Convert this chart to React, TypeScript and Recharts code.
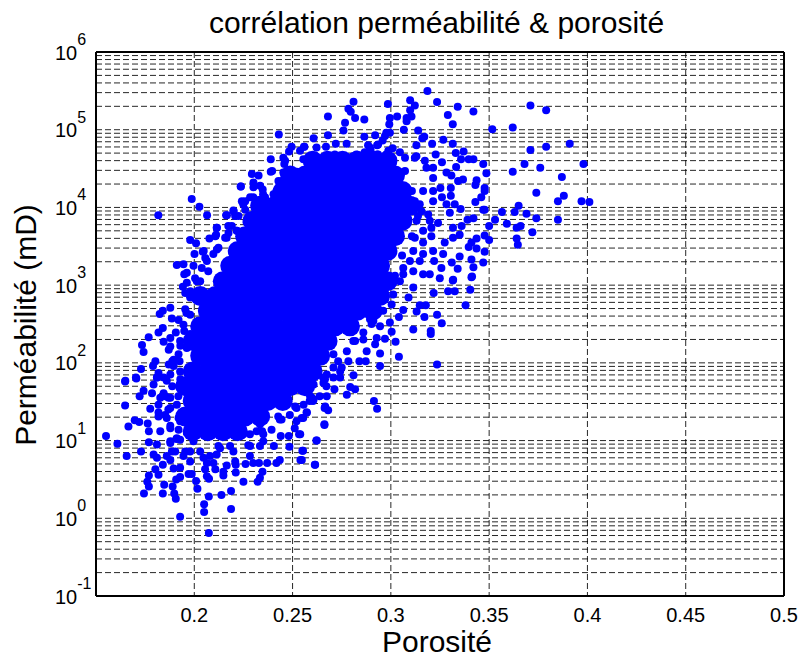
import { ScatterChart, Scatter, XAxis, YAxis, CartesianGrid, ReferenceLine } from 'recharts';

const TITLE = 'corrélation perméabilité & porosité';
const xTicks = [0.2, 0.25, 0.3, 0.35, 0.4, 0.45, 0.5];
const decades = [0.1, 1, 10, 100, 1000, 10000, 100000];
const gridSteps = [1, 2, 3, 4, 5, 6, 7, 8, 9];

// [porosity, log10(permeability)]
const upperRight = [
  [0.3186, 5.498], [0.3235, 5.356], [0.334, 5.296], [0.342, 5.235], [0.329, 5.19], [0.3315, 5.07],
  [0.371, 5.31], [0.379, 5.25], [0.3516, 5.007], [0.362, 5.03], [0.391, 4.82], [0.379, 4.78],
  [0.371, 4.74], [0.368, 4.56], [0.376, 4.51], [0.362, 4.46], [0.398, 4.56], [0.387, 4.39],
  [0.374, 4.19], [0.388, 4.15], [0.385, 4.08], [0.397, 4.08], [0.401, 4.07], [0.365, 4.02],
  [0.3565, 3.94], [0.363, 3.94], [0.369, 3.92], [0.374, 3.86], [0.385, 3.84], [0.353, 3.84],
  [0.359, 3.79], [0.364, 3.74], [0.366, 3.76], [0.372, 3.68], [0.364, 3.6], [0.3646, 3.52],
  [0.35, 3.76], [0.347, 3.97], [0.3477, 3.97], [0.342, 3.86], [0.339, 3.84], [0.336, 3.76],
  [0.3477, 3.64], [0.35, 3.58], [0.3436, 3.6], [0.341, 3.55], [0.3396, 3.49], [0.3436, 3.47],
  [0.3477, 3.43], [0.335, 3.37], [0.341, 3.33], [0.347, 3.29], [0.342, 3.23], [0.341, 3.1],
  [0.331, 3.29], [0.334, 3.21], [0.3317, 3.07], [0.343, 4.07], [0.346, 4.13], [0.3477, 4.25],
  [0.3477, 4.21], [0.3436, 4.35], [0.343, 4.29], [0.3486, 4.44], [0.347, 4.56], [0.342, 4.62],
  [0.3396, 4.62], [0.337, 4.72], [0.3357, 4.62], [0.333, 4.7], [0.3315, 4.82], [0.3267, 4.87],
  [0.321, 4.82], [0.3332, 4.52], [0.326, 4.58], [0.3228, 4.68], [0.3139, 4.99], [0.317, 4.91],
  [0.316, 4.89], [0.313, 4.8], [0.3066, 5.0], [0.3215, 4.51], [0.3283, 4.45], [0.3308, 4.41],
  [0.3367, 4.36], [0.3342, 4.34], [0.3305, 4.25], [0.3305, 4.15], [0.3252, 4.25], [0.326, 4.13],
  [0.3215, 4.21], [0.3283, 4.04], [0.3325, 4.04], [0.3355, 3.98], [0.33, 3.93], [0.324, 3.8],
  [0.3206, 3.74], [0.3316, 3.74], [0.335, 3.65], [0.3316, 3.61], [0.3274, 3.55], [0.3266, 3.4],
  [0.3206, 3.63], [0.3164, 3.55], [0.3164, 3.4], [0.322, 3.31], [0.3257, 3.22], [0.3198, 3.14],
  [0.3249, 3.09], [0.3063, 3.14], [0.3147, 4.04], [0.319, 3.91],
];

const upperEdge = [
  [0.292, 4.93], [0.2865, 4.91], [0.2759, 4.99], [0.2767, 5.09], [0.268, 5.17], [0.268, 4.93],
  [0.2607, 4.89], [0.256, 4.78], [0.281, 5.36], [0.2784, 5.27], [0.2796, 5.23], [0.2818, 5.15],
  [0.2865, 5.13], [0.2985, 5.33], [0.3098, 5.38], [0.3122, 5.31], [0.3098, 5.25], [0.3105, 5.17],
  [0.308, 5.15], [0.308, 5.11], [0.3032, 5.17], [0.2995, 5.15], [0.2992, 5.07], [0.2775, 4.82],
  [0.272, 4.82], [0.267, 4.78], [0.2884, 4.8], [0.2897, 4.74], [0.293, 4.8], [0.293, 4.68],
  [0.2995, 4.96], [0.297, 4.92], [0.2958, 4.86], [0.3009, 4.76], [0.2987, 4.73], [0.3046, 4.71],
  [0.3072, 4.64], [0.313, 4.66], [0.3173, 4.6], [0.243, 4.94], [0.2558, 4.78], [0.2495, 4.78],
  [0.2482, 4.72], [0.2389, 4.62], [0.2453, 4.64], [0.2458, 4.56], [0.2389, 4.46], [0.2293, 4.43],
  [0.2327, 4.41], [0.2301, 4.32], [0.2301, 4.26], [0.2237, 4.27], [0.2348, 4.23], [0.2453, 4.45],
  [0.2428, 4.34], [0.2521, 4.46], [0.2555, 4.62], [0.2622, 4.77], [0.2614, 4.66], [0.2673, 4.66],
  [0.2715, 4.68], [0.2825, 4.68], [0.2867, 4.71], [0.2893, 4.77], [0.2935, 4.81], [0.2935, 4.68],
  [0.2977, 4.96], [0.2403, 4.17], [0.236, 4.13], [0.2284, 4.13], [0.2242, 4.08], [0.22, 3.95],
  [0.2487, 4.38], [0.2563, 4.47], [0.2605, 4.56], [0.2656, 4.56], [0.2707, 4.49], [0.2757, 4.6],
  [0.2808, 4.66], [0.2842, 4.47], [0.2893, 4.38], [0.2926, 4.56], [0.2977, 4.68], [0.2445, 4.34],
  [0.2369, 4.08], [0.2318, 4.04], [0.2259, 3.97], [0.2225, 3.89], [0.2191, 3.76], [0.2157, 3.61],
  [0.2173, 3.76], [0.2208, 3.89], [0.2259, 4.08], [0.2335, 4.28], [0.2396, 4.47], [0.2462, 4.6],
  [0.2538, 4.73],
];

const upperLeft = [
  [0.1817, 3.9], [0.1987, 4.11], [0.2026, 4.01], [0.2065, 3.9], [0.2162, 3.9], [0.2236, 4.27],
  [0.2114, 3.74], [0.2111, 3.65], [0.2077, 3.6], [0.1979, 3.58], [0.2009, 3.54], [0.2001, 3.4],
  [0.2043, 3.43], [0.1911, 3.26], [0.1945, 3.27], [0.1996, 3.25], [0.1962, 3.16], [0.1949, 3.14],
  [0.2004, 3.09], [0.1962, 3.03], [0.1942, 2.98], [0.1954, 2.9], [0.1878, 2.71], [0.184, 2.67],
  [0.1824, 2.63], [0.1886, 2.57], [0.192, 2.55], [0.1954, 2.69], [0.184, 2.45], [0.1818, 2.39],
  [0.1768, 2.33], [0.1906, 2.39], [0.1878, 2.32], [0.1844, 2.27], [0.1734, 2.23], [0.1742, 2.14],
  [0.1878, 2.21], [0.187, 2.17], [0.1802, 2.02], [0.179, 1.96], [0.187, 1.98], [0.1895, 2.04],
  [0.1729, 1.92], [0.1818, 1.87], [0.181, 1.81], [0.1703, 1.81], [0.1649, 1.77], [0.1925, 2.02],
  [0.2115, 3.74], [0.2107, 3.63], [0.2174, 3.67], [0.2217, 3.7], [0.2048, 3.44], [0.2115, 3.46],
  [0.2056, 3.35], [0.2166, 3.9], [0.1979, 2.62], [0.1945, 2.49], [0.1979, 2.37], [0.1928, 2.28],
  [0.1962, 2.19], [0.192, 2.11], [0.1895, 1.96], [0.1928, 1.89], [0.1844, 1.81], [0.1878, 1.85],
  [0.1979, 2.84], [0.2013, 3.05], [0.2038, 3.22], [0.2064, 3.31], [0.2097, 3.4], [0.2123, 3.48],
  [0.2165, 3.61], [0.2216, 3.7], [0.2266, 3.81], [0.2199, 3.96], [0.2249, 4.04], [0.23, 4.13],
  [0.235, 4.17], [0.2418, 4.21], [0.2071, 3.18], [0.203, 3.05], [0.198, 2.92], [0.196, 2.64],
  [0.1949, 2.41], [0.1929, 2.22], [0.1888, 2.02],
];

const lowerLeft = [
  [0.1648, 1.76], [0.1705, 1.8], [0.1793, 1.72], [0.1742, 1.64], [0.1722, 1.57], [0.1785, 1.61],
  [0.1648, 1.45], [0.1776, 1.41], [0.1697, 1.26], [0.172, 1.24], [0.1665, 1.18], [0.1763, 1.22],
  [0.1769, 1.12], [0.1551, 1.06], [0.1609, 0.96], [0.1656, 0.8], [0.1729, 0.86], [0.1769, 0.98],
  [0.181, 0.95], [0.1793, 0.82], [0.181, 0.78], [0.184, 0.69], [0.1802, 0.63], [0.1818, 0.56],
  [0.1769, 0.55], [0.1761, 0.47], [0.1769, 0.41], [0.1744, 0.32], [0.1847, 0.43], [0.184, 0.32],
  [0.1906, 0.25], [0.1898, 0.32], [0.189, 0.41], [0.1908, 0.5], [0.1928, 0.53], [0.1895, 0.64],
  [0.1928, 0.65], [0.1971, 0.57], [0.1987, 0.57], [0.2009, 0.48], [0.2016, 0.38], [0.2055, 0.63],
  [0.2064, 0.54], [0.2075, 0.51], [0.2074, 0.28], [0.205, 0.18], [0.205, 0.08], [0.1928, 0.02],
  [0.2074, -0.19], [0.2187, 0.12], [0.2138, 0.3], [0.2187, 0.35], [0.1886, 0.86], [0.186, 0.8],
  [0.1878, 0.75], [0.1928, 1.25], [0.1979, 1.1], [0.1878, 0.99], [0.1827, 1.12], [0.1818, 1.36],
  [0.186, 1.29], [0.1827, 1.55], [0.1869, 1.55], [0.1818, 1.46], [0.1911, 1.03], [0.1979, 0.73],
  [0.2047, 0.78], [0.2097, 0.71], [0.2173, 1.08], [0.2123, 0.93], [0.2199, 0.86], [0.181, 1.81],
  [0.186, 1.77], [0.1844, 1.61], [0.1878, 1.55], [0.1878, 1.42], [0.1818, 1.31], [0.1852, 1.33],
  [0.1911, 1.46], [0.192, 1.29], [0.1878, 1.16], [0.192, 1.14], [0.1962, 1.1], [0.1878, 0.97],
  [0.1928, 1.01], [0.1996, 0.99], [0.1903, 0.86], [0.1945, 0.8], [0.1979, 0.86], [0.203, 0.86],
  [0.208, 0.8], [0.2131, 0.9], [0.2182, 0.93], [0.2064, 0.71], [0.2114, 0.82], [0.1853, 1.57],
  [0.1888, 1.7], [0.1868, 1.4], [0.1919, 1.57], [0.1929, 1.79], [0.1878, 1.19], [0.1909, 1.02],
  [0.1954, 0.86], [0.2107, 0.63], [0.2208, 0.73],
];

const lowerRight = [
  [0.2148, 0.6], [0.2148, 0.55], [0.2211, 0.59], [0.225, 0.47], [0.2322, 0.47], [0.2334, 0.52],
  [0.2347, 0.6], [0.2371, 0.71], [0.2435, 0.75], [0.2418, 0.71], [0.2329, 0.71], [0.23, 0.71],
  [0.2261, 0.7], [0.2283, 0.8], [0.2211, 0.69], [0.2165, 0.68], [0.2275, 0.94], [0.2334, 0.93],
  [0.2351, 0.99], [0.2405, 0.93], [0.2484, 0.92], [0.244, 1.06], [0.2481, 1.06], [0.255, 0.87],
  [0.254, 0.75], [0.2613, 0.69], [0.2621, 1.0], [0.2662, 1.21], [0.2533, 1.08], [0.2511, 1.16],
  [0.2571, 1.36], [0.2554, 1.29], [0.252, 1.25], [0.2604, 1.51], [0.2663, 1.42], [0.2435, 1.27],
  [0.2283, 1.08], [0.2249, 1.08], [0.2334, 1.21], [0.2393, 1.14], [0.2623, 1.0], [0.2553, 0.87],
  [0.2547, 0.75], [0.2615, 0.69], [0.2662, 1.2], [0.2539, 1.08], [0.2666, 1.44], [0.2681, 1.39],
  [0.2573, 1.36], [0.2547, 1.29], [0.2607, 1.53], [0.2713, 1.66], [0.2674, 1.57], [0.2657, 1.74],
  [0.2708, 1.81], [0.2742, 1.81], [0.275, 1.94], [0.2776, 1.59], [0.2793, 1.69], [0.2818, 1.66],
  [0.281, 1.84], [0.2914, 1.51], [0.293, 1.41], [0.2945, 1.96], [0.284, 2.02], [0.2872, 2.02],
  [0.2877, 2.15], [0.3235, 1.98], [0.2945, 2.12], [0.3041, 2.08], [0.297, 2.31], [0.3024, 2.27],
  [0.286, 2.3], [0.292, 2.24], [0.2945, 2.47], [0.2902, 2.5], [0.2995, 2.52], [0.3004, 2.4],
  [0.3041, 2.59], [0.3063, 2.68], [0.309, 2.84], [0.3114, 2.43], [0.3203, 2.41], [0.3203, 2.37],
  [0.3131, 2.66], [0.3147, 2.74], [0.3178, 2.74], [0.3171, 2.59], [0.3235, 2.62], [0.3259, 2.51],
  [0.338, 2.74], [0.3218, 2.9], [0.3291, 2.92], [0.3325, 2.92], [0.3404, 2.94], [0.3315, 3.06],
  [0.3413, 3.11], [0.225, 1.12], [0.2216, 1.08], [0.2317, 1.12], [0.2351, 1.08], [0.2444, 1.27],
  [0.2486, 1.33], [0.252, 1.42], [0.2587, 1.51], [0.2638, 1.57], [0.2672, 1.7], [0.2655, 1.81],
  [0.2598, 1.55], [0.2556, 1.46], [0.2607, 1.72], [0.2674, 1.85], [0.2708, 1.94], [0.2742, 1.89],
  [0.2784, 2.02], [0.2708, 2.11], [0.2776, 2.15], [0.2809, 2.28], [0.2928, 2.32], [0.286, 2.39],
  [0.2911, 2.54], [0.2961, 2.67], [0.3004, 2.75], [0.3012, 2.88], [0.3114, 2.97], [0.3046, 3.05],
  [0.3063, 3.22], [0.3114, 3.18], [0.3164, 3.14], [0.3097, 3.31], [0.3147, 3.31], [0.3114, 3.44],
  [0.3215, 3.44], [0.3122, 3.61], [0.3164, 3.7], [0.3131, 3.83], [0.3198, 3.83], [0.3156, 3.95],
  [0.3122, 4.08], [0.3215, 4.08], [0.3164, 4.21], [0.3215, 4.38], [0.3181, 4.51], [0.3122, 4.64],
  [0.2284, 0.93], [0.2345, 1.12], [0.2427, 1.31], [0.2513, 1.44], [0.2589, 1.57], [0.2665, 1.79],
  [0.2732, 2.02], [0.2818, 2.28], [0.2894, 2.56], [0.297, 2.82], [0.3021, 3.12], [0.3057, 3.38],
  [0.3107, 3.63], [0.3138, 3.89], [0.3107, 4.21], [0.3072, 4.47],
];

// the core is too dense to read single points: wider dots stand in for clusters there
const coreRows: [number, number[]][] = [
  [4.6, [0.2602, 0.2678, 0.2754, 0.283, 0.2907, 0.2983]],
  [4.41, [0.2488, 0.2564, 0.264, 0.2716, 0.2792, 0.2869, 0.2945, 0.3021]],
  [4.21, [0.245, 0.2526, 0.2602, 0.2678, 0.2754, 0.283, 0.2907, 0.2983, 0.3059]],
  [4.02, [0.2335, 0.2411, 0.2488, 0.2564, 0.264, 0.2716, 0.2792, 0.2869, 0.2945, 0.3021, 0.3097]],
  [3.83, [0.2297, 0.2373, 0.245, 0.2526, 0.2602, 0.2678, 0.2754, 0.283, 0.2907, 0.2983, 0.3059]],
  [3.63, [0.2259, 0.2335, 0.2411, 0.2488, 0.2564, 0.264, 0.2716, 0.2792, 0.2869, 0.2945, 0.3021]],
  [3.44, [0.2221, 0.2297, 0.2373, 0.245, 0.2526, 0.2602, 0.2678, 0.2754, 0.283, 0.2907, 0.2983]],
  [3.25, [0.2183, 0.2259, 0.2335, 0.2411, 0.2488, 0.2564, 0.264, 0.2716, 0.2792, 0.2869, 0.2945]],
  [3.05, [0.2145, 0.2221, 0.2297, 0.2373, 0.245, 0.2526, 0.2602, 0.2678, 0.2754, 0.283, 0.2907, 0.2983]],
  [2.86, [0.203, 0.2107, 0.2183, 0.2259, 0.2335, 0.2411, 0.2488, 0.2564, 0.264, 0.2716, 0.2792, 0.2869, 0.2945]],
  [2.67, [0.2069, 0.2145, 0.2221, 0.2297, 0.2373, 0.245, 0.2526, 0.2602, 0.2678, 0.2754, 0.283, 0.2907]],
  [2.47, [0.203, 0.2107, 0.2183, 0.2259, 0.2335, 0.2411, 0.2488, 0.2564, 0.264, 0.2716, 0.2792]],
  [2.28, [0.1992, 0.2069, 0.2145, 0.2221, 0.2297, 0.2373, 0.245, 0.2526, 0.2602, 0.2678]],
  [2.09, [0.203, 0.2107, 0.2183, 0.2259, 0.2335, 0.2411, 0.2488, 0.2564, 0.264]],
  [1.89, [0.1992, 0.2069, 0.2145, 0.2221, 0.2297, 0.2373, 0.245, 0.2526, 0.2602]],
  [1.7, [0.1954, 0.203, 0.2107, 0.2183, 0.2259, 0.2335, 0.2411, 0.2488, 0.2564]],
  [1.51, [0.1992, 0.2069, 0.2145, 0.2221, 0.2297, 0.2373, 0.245]],
  [1.31, [0.1954, 0.203, 0.2107, 0.2183, 0.2259, 0.2335]],
  [1.12, [0.1992, 0.2069, 0.2145, 0.2221]],
];

const toRows = (pairs: number[][]) => pairs.map(([x, e]) => ({ x, y: 10 ** e }));
const pointRows = toRows([...upperRight, ...upperEdge, ...upperLeft, ...lowerLeft, ...lowerRight]);
const coreData = toRows(coreRows.flatMap(([e, xs]) => xs.map((x) => [x, e])));
const gridLevels = decades.flatMap((d) => gridSteps.map((s) => d * s));
const yTicks = [...decades, 1000000];

const FONT = '"Liberation Sans", Arial, sans-serif';
const BLUE = '#0000ff';

const PointDot = (props: any) => <circle cx={props.cx} cy={props.cy} r={4} fill={BLUE} />;
const CoreDot = (props: any) => <circle cx={props.cx} cy={props.cy} r={10} fill={BLUE} />;

const PowerTick = ({ y, payload }: any) => (
  <text fontFamily={FONT} fill="#000">
    <tspan x={55} y={y + 7.5} fontSize={20}>10</tspan>
    <tspan y={y - 7} fontSize={16}>{Math.round(Math.log10(payload.value))}</tspan>
  </text>
);

export default function App() {
  return (
    <div style={{ position: 'absolute', left: 0, top: 0, width: 800, height: 657, background: '#fff' }}>
      <ScatterChart width={800} height={657} margin={{ top: 52, right: 16, bottom: 0, left: 0 }}>
        <CartesianGrid
          horizontalValues={gridLevels}
          verticalValues={xTicks}
          stroke="#000"
          strokeDasharray="6 3"
          strokeOpacity={0.85}
        />
        <XAxis
          type="number"
          dataKey="x"
          domain={[0.15, 0.5]}
          ticks={xTicks}
          interval={0}
          height={61}
          tickLine={false}
          tickMargin={6}
          tick={{ fontSize: 20, fontFamily: FONT, fill: '#000' }}
          axisLine={{ stroke: '#000', strokeWidth: 2 }}
        />
        <YAxis
          type="number"
          dataKey="y"
          scale="log"
          domain={[0.1, 1000000]}
          allowDataOverflow
          ticks={yTicks}
          interval={0}
          width={96}
          tickLine={false}
          tick={<PowerTick />}
          axisLine={{ stroke: '#000', strokeWidth: 2 }}
        />
        <ReferenceLine y={1000000} stroke="#000" strokeWidth={2} />
        <ReferenceLine x={0.5} stroke="#000" strokeWidth={2} />
        <Scatter data={coreData} shape={CoreDot} isAnimationActive={false} />
        <Scatter data={pointRows} shape={PointDot} isAnimationActive={false} />
        <text x={436.5} y={33} textAnchor="middle" fontFamily={FONT} fontSize={30} fill="#000">{TITLE}</text>
        <text x={437} y={652} textAnchor="middle" fontFamily={FONT} fontSize={30} fill="#000">Porosité</text>
        <text
          transform="translate(36 325) rotate(-90)"
          textAnchor="middle"
          fontFamily={FONT}
          fontSize={30}
          fill="#000"
        >
          Perméabilité (mD)
        </text>
      </ScatterChart>
    </div>
  );
}
